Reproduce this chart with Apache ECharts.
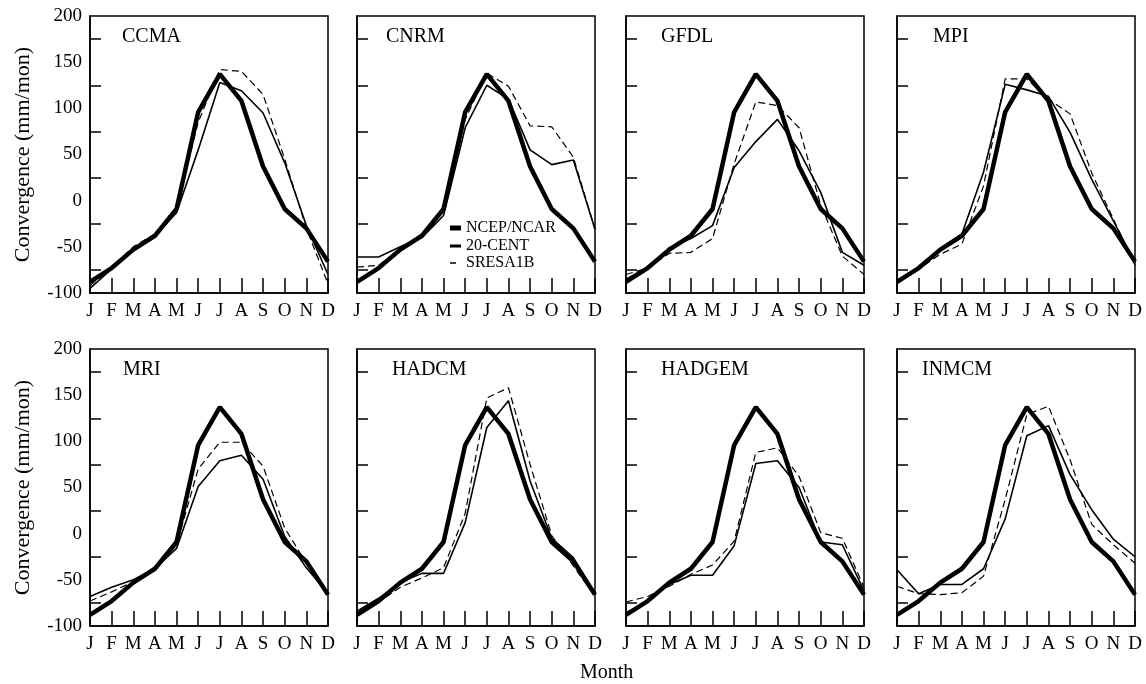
<!DOCTYPE html>
<html>
<head>
<meta charset="utf-8">
<title>Convergence</title>
<script src="https://cdn.jsdelivr.net/npm/echarts@6/dist/echarts.min.js"></script>
<style>
    html, body { margin: 0; padding: 0; background: #fff; }
    #main { width: 1146px; height: 684px; }
</style>
</head>
<body>
<div id="main"></div>
<script>
// 月份与模式名
var months = ['J', 'F', 'M', 'A', 'M', 'J', 'J', 'A', 'S', 'O', 'N', 'D'];
var panelNames = ['CCMA', 'CNRM', 'GFDL', 'MPI', 'MRI', 'HADCM', 'HADGEM', 'INMCM'];
var yTicks = [-100, 200, 50]; // min, max, interval

// 再分析资料 (所有子图相同)
var ncep = [-88, -73, -53, -38, -9, 96, 137, 108, 37, -9, -30, -66];

// 20-CENT
var ccma20 = [-95, -74, -52, -38, -13, 55, 128, 119, 95, 41, -27, -80];
var cnrm20 = [-61, -61, -50, -40, -16, 79, 125, 110, 55, 39, 44, -31];
var gfdl20 = [-85, -72, -51, -41, -27, 36, 64, 88, 54, 9, -56, -70];
var mpi20 = [-88, -72, -52, -36, 31, 126, 120, 113, 74, 23, -22, -67];
var mri20 = [-68, -58, -50, -38, -16, 51, 79, 85, 59, -3, -37, -65];
var hadcm20 = [-84, -70, -53, -43, -43, 12, 115, 144, 57, -5, -26, -64];
var hadgem20 = [-86, -73, -55, -45, -45, -13, 76, 79, 50, -9, -12, -62];
var inmcm20 = [-39, -65, -55, -55, -38, 16, 106, 117, 64, 26, -6, -25];

// SRESA1B
var ccmaA1b = [-92, -72, -50, -36, -10, 85, 142, 140, 115, 45, -30, -90];
var cnrmA1b = [-72, -70, -52, -38, -12, 88, 138, 124, 81, 80, 47, -31];
var gfdlA1b = [-80, -73, -57, -56, -41, 40, 107, 103, 79, -5, -60, -80];
var mpiA1b = [-90, -74, -58, -47, 16, 132, 132, 110, 94, 30, -20, -70];
var mriA1b = [-73, -63, -52, -38, -12, 70, 99, 99, 73, 6, -32, -65];
var hadcmA1b = [-86, -74, -58, -48, -37, 22, 147, 158, 75, -2, -35, -68];
var hadgemA1b = [-74, -68, -57, -44, -34, -8, 88, 93, 62, 1, -5, -58];
var inmcmA1b = [-57, -65, -66, -64, -46, 37, 129, 138, 80, 10, -12, -32];

var cent = [ccma20, cnrm20, gfdl20, mpi20, mri20, hadcm20, hadgem20, inmcm20];
var sres = [ccmaA1b, cnrmA1b, gfdlA1b, mpiA1b, mriA1b, hadcmA1b, hadgemA1b, inmcmA1b];

// 版面
var colLeft = [90, 357, 626, 897],
    rowTop = [16, 349],
    panelW = 238,
    panelH = 277,
    titleDx = [32, 29, 35, 36, 33, 35, 35, 25];

var font = 'Liberation Serif';

var grids = [], xAxes = [], yAxes = [], series = [], titles = [];

for (var i = 0; i < 8; i++) {
    var col = i % 4, row = Math.floor(i / 4);

    grids.push({
        left: colLeft[col],
        top: rowTop[row],
        width: panelW,
        height: panelH,
        show: true,
        borderColor: '#000',
        borderWidth: 1.5
    });

    xAxes.push({
        gridIndex: i,
        type: 'category',
        data: months,
        boundaryGap: false,
        axisLine: { onZero: false, lineStyle: { color: '#000', width: 1.5 } },
        axisTick: { inside: true, length: 15, interval: 0, lineStyle: { color: '#000', width: 1.5 } },
        axisLabel: { interval: 0, color: '#000', fontFamily: font, fontSize: 19, margin: 9 },
        splitLine: { show: false }
    });

    yAxes.push({
        gridIndex: i,
        type: 'value',
        min: yTicks[0],
        max: yTicks[1],
        interval: yTicks[2],
        name: col === 0 ? 'Convergence (mm/mon)' : '',
        nameLocation: 'middle',
        nameGap: 56,
        nameTextStyle: { color: '#000', fontFamily: font, fontSize: 22 },
        axisLine: { show: true, onZero: false, lineStyle: { color: '#000', width: 1.5 } },
        axisTick: { inside: true, length: 22, lineStyle: { color: '#000', width: 1.5 } },
        minorTick: { show: true, splitNumber: 2, length: 11, lineStyle: { color: '#000', width: 1.5 } },
        axisLabel: { show: col === 0, color: '#000', fontFamily: font, fontSize: 19, margin: 8 },
        splitLine: { show: false },
        minorSplitLine: { show: false }
    });

    series.push({
        name: 'SRESA1B',
        type: 'line',
        xAxisIndex: i,
        yAxisIndex: i,
        symbol: 'none',
        lineStyle: { color: '#000', width: 1.2, type: [7, 4] },
        itemStyle: { color: '#000' },
        data: sres[i]
    }, {
        name: '20-CENT',
        type: 'line',
        xAxisIndex: i,
        yAxisIndex: i,
        symbol: 'none',
        lineStyle: { color: '#000', width: 1.6 },
        itemStyle: { color: '#000' },
        data: cent[i]
    }, {
        name: 'NCEP/NCAR',
        type: 'line',
        xAxisIndex: i,
        yAxisIndex: i,
        symbol: 'none',
        lineStyle: { color: '#000', width: 4.5 },
        itemStyle: { color: '#000' },
        data: ncep
    });

    titles.push({
        text: panelNames[i],
        left: colLeft[col] + titleDx[i],
        top: rowTop[row] + 11,
        padding: 0,
        textStyle: { color: '#000', fontFamily: font, fontWeight: 'normal', fontSize: 20 }
    });
}

titles.push({
    text: 'Month',
    left: 580,
    top: 663,
    padding: 0,
    textStyle: { color: '#000', fontFamily: font, fontWeight: 'normal', fontSize: 20 }
});

// 图例放在 CNRM 子图里, 每项一个 legend 以控制图标粗细
function legendItem(name, top, w, h, dx) {
    return {
        data: [name],
        left: 450,
        top: top,
        padding: 0,
        icon: 'rect',
        itemWidth: w,
        itemHeight: h,
        selectedMode: false,
        itemStyle: { color: '#000', borderWidth: 0 },
        textStyle: { color: '#000', fontFamily: font, fontSize: 16, padding: [0, 0, 0, dx] }
    };
}

var myChart = echarts.init(document.getElementById('main'));

myChart.setOption({
    animation: false,
    backgroundColor: '#fff',
    title: titles,
    legend: [
        legendItem('NCEP/NCAR', 220, 11, 5, 0),
        legendItem('20-CENT', 238, 11, 3, 0),
        legendItem('SRESA1B', 255, 6, 1.5, 5)
    ],
    grid: grids,
    xAxis: xAxes,
    yAxis: yAxes,
    series: series
});
</script>
</body>
</html>
